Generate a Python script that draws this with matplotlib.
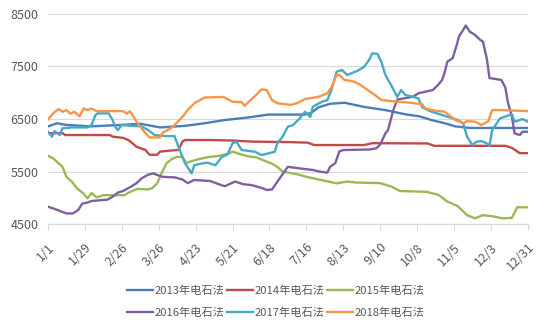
import matplotlib
matplotlib.use('Agg')
import matplotlib.pyplot as plt

plt.rcParams['font.family'] = ['Noto Sans CJK SC', 'DejaVu Sans']

# x = day of year (0 = 1/1), y = price
tick_days = [0, 28, 56, 84, 112, 140, 168, 196, 224, 252, 280, 308, 336, 364]
tick_labels = ['1/1', '1/29', '2/26', '3/26', '4/23', '5/21', '6/18', '7/16',
               '8/13', '9/10', '10/8', '11/5', '12/3', '12/31']
y_ticks = [4500, 5500, 6500, 7500, 8500]

d2013 = [0, 7, 13, 32, 50, 70, 85, 104, 119, 134, 152, 167, 195, 200, 205, 214, 225,
         240, 256, 271, 282, 291, 301, 309, 320, 364]
v2013 = [6360, 6420, 6390, 6360, 6380, 6410, 6340, 6370, 6420, 6480, 6530, 6585, 6585,
         6620, 6720, 6790, 6810, 6730, 6670, 6590, 6550, 6480, 6420, 6360, 6330, 6330]

d2014 = [0, 11, 13, 47, 49, 57, 61, 64, 67, 74, 77, 83, 85, 93, 99, 102, 104, 124, 140,
         155, 184, 197, 202, 240, 246, 288, 293, 347, 352, 358, 364]
v2014 = [6230, 6230, 6195, 6195, 6165, 6140, 6100, 6040, 5975, 5910, 5820, 5820, 5880,
         5900, 5910, 6070, 6100, 6100, 6090, 6070, 6060, 6050, 6005, 6005, 6040, 6035,
         5990, 5990, 5950, 5850, 5850]

d2015 = [0, 4, 8, 11, 14, 18, 22, 27, 30, 33, 37, 42, 58, 62, 68, 75, 79, 83, 86, 90, 94,
         98, 102, 105, 109, 115, 123, 130, 138, 140, 146, 152, 158, 163, 170, 174, 178,
         189, 196, 209, 219, 227, 234, 252, 261, 267, 287, 296, 303, 311, 318, 324, 330,
         337, 345, 352, 354, 356, 364]
v2015 = [5800, 5750, 5660, 5590, 5400, 5310, 5180, 5080, 4990, 5090, 5010, 5050, 5050,
         5110, 5170, 5160, 5180, 5280, 5460, 5660, 5740, 5780, 5780, 5660, 5700, 5740,
         5780, 5800, 5850, 5880, 5830, 5790, 5770, 5720, 5650, 5590, 5500, 5450, 5400,
         5330, 5275, 5310, 5290, 5280, 5210, 5130, 5115, 5060, 4930, 4840, 4670, 4610,
         4670, 4650, 4610, 4620, 4720, 4820, 4820]

d2016 = [0, 5, 9, 14, 19, 23, 26, 30, 33, 45, 47, 49, 53, 57, 62, 67, 71, 76, 80, 83, 87,
         96, 102, 106, 111, 123, 134, 142, 148, 155, 163, 166, 170, 174, 178, 182, 191,
         201, 206, 212, 214, 218, 221, 224, 244, 249, 252, 256, 258, 262, 265, 277, 281,
         292, 296, 299, 301, 303, 307, 310, 312, 315, 317, 320, 324, 328, 330, 333, 335,
         344, 347, 349, 352, 354, 358, 360, 364]
v2016 = [4830, 4790, 4750, 4703, 4703, 4770, 4890, 4910, 4940, 4965, 4990, 5020, 5100,
         5130, 5200, 5275, 5370, 5440, 5465, 5433, 5400, 5390, 5350, 5280, 5340, 5320,
         5220, 5310, 5260, 5240, 5180, 5150, 5160, 5306, 5450, 5590, 5560, 5530, 5500,
         5480, 5590, 5660, 5880, 5910, 5920, 5940, 6010, 6227, 6290, 6670, 6870, 6925,
         6990, 7052, 7150, 7243, 7390, 7592, 7656, 7900, 8080, 8195, 8280, 8163, 8100,
         8005, 7973, 7640, 7280, 7243, 7100, 6810, 6544, 6227, 6195, 6258, 6258]

d2017 = [0, 3, 5, 9, 11, 18, 30, 33, 36, 38, 46, 49, 51, 53, 56, 64, 71, 76, 81, 89, 96,
         99, 104, 109, 111, 117, 121, 127, 132, 136, 140, 143, 147, 157, 162, 167, 172,
         174, 178, 182, 186, 191, 195, 199, 201, 208, 212, 215, 219, 223, 227, 235, 240,
         244, 246, 250, 253, 256, 261, 265, 268, 271, 281, 284, 291, 303, 311, 315, 318,
         322, 325, 329, 333, 335, 337, 343, 352, 354, 358, 360, 364]
v2017 = [6258, 6163, 6270, 6195, 6322, 6340, 6340, 6385, 6576, 6608, 6608, 6481, 6354,
         6290, 6385, 6370, 6360, 6290, 6195, 6176, 6176, 5972, 5655, 5465, 5620, 5655,
         5670, 5620, 5782, 5820, 6037, 6068, 5910, 5877, 5814, 5846, 5877, 6037, 6163,
         6354, 6386, 6513, 6640, 6540, 6735, 6830, 6862, 7052, 7401, 7433, 7338, 7420,
         7496, 7640, 7750, 7740, 7580, 7338, 7116, 6920, 7052, 6960, 6894, 6720, 6640,
         6545, 6480, 6418, 6163, 6004, 6068, 6080, 6037, 5991, 6290, 6513, 6590, 6450,
         6480, 6500, 6450]

d2018 = [0, 4, 8, 11, 14, 17, 20, 24, 27, 30, 33, 37, 57, 60, 62, 64, 68, 74, 77, 85, 87,
         93, 96, 102, 106, 111, 119, 133, 140, 147, 149, 155, 158, 162, 166, 170, 174,
         184, 189, 195, 205, 212, 215, 219, 221, 225, 231, 235, 240, 248, 253, 261, 265,
         275, 284, 286, 293, 301, 309, 315, 318, 324, 329, 334, 337, 343, 364]
v2018 = [6490, 6610, 6690, 6640, 6670, 6600, 6640, 6550, 6700, 6670, 6700, 6650, 6650,
         6600, 6650, 6580, 6420, 6230, 6150, 6150, 6240, 6320, 6385, 6540, 6670, 6800,
         6910, 6920, 6830, 6820, 6750, 6890, 6960, 7065, 7050, 6860, 6800, 6770, 6800,
         6880, 6920, 6990, 7100, 7338, 7340, 7243, 7220, 7180, 7100, 6957, 6862, 6840,
         6830, 6810, 6780, 6703, 6660, 6640, 6481, 6418, 6460, 6450, 6385, 6460, 6671,
         6671, 6650]

series = [
    ('2013年电石法', d2013, v2013, '#4A7EBB'),
    ('2014年电石法', d2014, v2014, '#BE4B48'),
    ('2015年电石法', d2015, v2015, '#98B954'),
    ('2016年电石法', d2016, v2016, '#7D60A0'),
    ('2017年电石法', d2017, v2017, '#46AAC5'),
    ('2018年电石法', d2018, v2018, '#F79646'),
]

fig = plt.figure(figsize=(5.54, 3.32), dpi=100)
ax = fig.add_axes([0.0866, 0.325, 0.866, 0.633])

lines = []
for name, d, v, c in series:
    ln, = ax.plot(d, v, color=c, lw=1.7, label=name)
    lines.append(ln)

ax.set_xlim(0, 364)
ax.set_ylim(4500, 8500)
ax.set_yticks(y_ticks)
ax.set_xticks(tick_days)
ax.set_xticklabels(tick_labels, rotation=45, ha='right', rotation_mode='anchor')
ax.grid(axis='y', color='#D9D9D9', lw=0.9)
ax.set_axisbelow(True)
for s in ['top', 'right', 'left']:
    ax.spines[s].set_visible(False)
ax.spines['bottom'].set_color('#D9D9D9')
ax.tick_params(axis='y', length=0, labelsize=9, labelcolor='#595959', pad=7)
ax.tick_params(axis='x', length=4, color='#D9D9D9', labelsize=9,
               labelcolor='#595959', pad=8)

# legend fills column by column, so reorder to get rows 2013-2015 / 2016-2018
order = [0, 3, 1, 4, 2, 5]
ax.legend([lines[i] for i in order], [series[i][0] for i in order],
          loc='upper center', bbox_to_anchor=(0.475, -0.245), ncol=3, frameon=False,
          fontsize=8.1, handlelength=2.3, handletextpad=0.15, columnspacing=0.2,
          labelspacing=1.0, labelcolor='#595959')

fig.savefig('out.png', dpi=100)
